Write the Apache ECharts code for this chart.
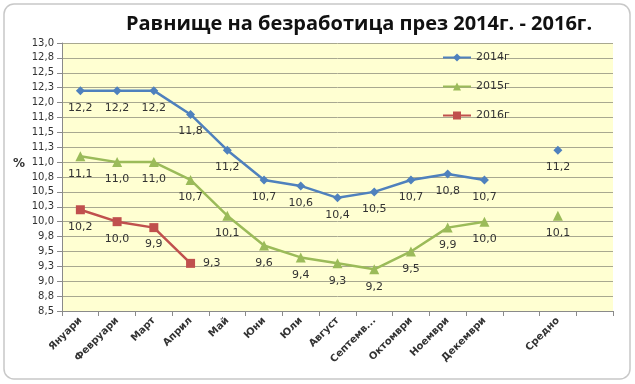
<!DOCTYPE html>
<html><head><meta charset="utf-8">
<script src="https://cdn.jsdelivr.net/npm/echarts@6/dist/echarts.min.js"></script>
<style>html,body{margin:0;padding:0;background:#fff}#c{width:635px;height:384px}</style>
</head><body><div id="c"></div>
<script>
const categories = ['Януари','Февруари','Март','Април','Май','Юни','Юли','Август','Септемв...','Октомври','Ноември','Декември','','Средно',''];
const s2014 = [12.2,12.2,12.2,11.8,11.2,10.7,10.6,10.4,10.5,10.7,10.8,10.7];
const s2015 = [11.1,11.0,11.0,10.7,10.1,9.6,9.4,9.3,9.2,9.5,9.9,10.0];
const s2016 = [10.2,10.0,9.9,9.3];
const avg2014 = 11.2;
const avg2015 = 10.1;
const names = ['2014г','2015г','2016г'];
const colors = ['#4F81BD','#9BBB59','#C0504D'];

const fmt = v => v.toFixed(1).replace('.', ',');
const lbl = {show:true, position:'bottom', distance:7, color:'#333', fontSize:11, fontFamily:'Verdana, DejaVu Sans', formatter:p=>fmt(p.value)};
function avgData(v){ const a = new Array(15).fill(null); a[13]=v; return a; }
const d2016 = s2016.map((v,i)=> i===s2016.length-1 ? {value:v, label:{position:'right', distance:8}} : v);

const chart = echarts.init(document.getElementById('c'), null, {renderer:'canvas'});
chart.setOption({
  animation:false,
  backgroundColor:'#fff',
  title:{text:'Равнище на безработица през 2014г. - 2016г.', left:354, top:9, textAlign:'center',
    textStyle:{fontSize:20, fontWeight:'bold', color:'#111', fontFamily:'Open Sans, DejaVu Sans'}},
  graphic:[
    {type:'rect', shape:{x:4,y:4,width:626,height:375,r:10}, style:{fill:'none', stroke:'#c8c8c8', lineWidth:1.5}, z:-1},
    {type:'text', left:13, top:158, style:{text:'%', fontSize:12, fontWeight:'bold', fill:'#333', fontFamily:'Verdana, DejaVu Sans'}}
  ],
  legend:{
    data:names, orient:'vertical', left:437, top:47, itemGap:18, itemWidth:28, itemHeight:10,
    textStyle:{fontSize:11, color:'#333', fontFamily:'Verdana, DejaVu Sans'}
  },
  grid:{left:62, right:22, top:43, bottom:73, show:true, backgroundColor:'#FFFFD2', borderWidth:0},
  xAxis:{
    type:'category', data:categories, boundaryGap:true,
    axisLine:{lineStyle:{color:'#8a8a8a'}},
    axisTick:{show:true, alignWithLabel:false, length:5, lineStyle:{color:'#8a8a8a'}},
    axisLabel:{rotate:45, interval:0, fontSize:10, fontWeight:'bold', color:'#333', fontFamily:'Verdana, DejaVu Sans', margin:8}
  },
  yAxis:{
    type:'value', min:8.5, max:13, interval:0.25,
    axisLine:{show:true, lineStyle:{color:'#8a8a8a'}},
    axisTick:{show:true, length:5, lineStyle:{color:'#8a8a8a'}},
    splitLine:{lineStyle:{color:'#a8a890', width:1}},
    axisLabel:{formatter:v=>fmt(v), fontSize:10, color:'#333', fontFamily:'Verdana, DejaVu Sans', margin:8}
  },
  series:[
    {name:names[0], type:'line', data:s2014, color:colors[0], symbol:'diamond', symbolSize:9, lineStyle:{width:2.5}, label:lbl},
    {name:names[1], type:'line', data:s2015, color:colors[1], symbol:'triangle', symbolSize:10, lineStyle:{width:2.5}, label:lbl},
    {name:names[2], type:'line', data:d2016, color:colors[2], symbol:'rect', symbolSize:9, lineStyle:{width:2.5}, label:lbl},
    {name:'Средно 2014', type:'line', data:avgData(avg2014), color:colors[0], symbol:'diamond', symbolSize:9, lineStyle:{width:0}, label:lbl},
    {name:'Средно 2015', type:'line', data:avgData(avg2015), color:colors[1], symbol:'triangle', symbolSize:10, lineStyle:{width:0}, label:lbl}
  ]
});
</script></body></html>
